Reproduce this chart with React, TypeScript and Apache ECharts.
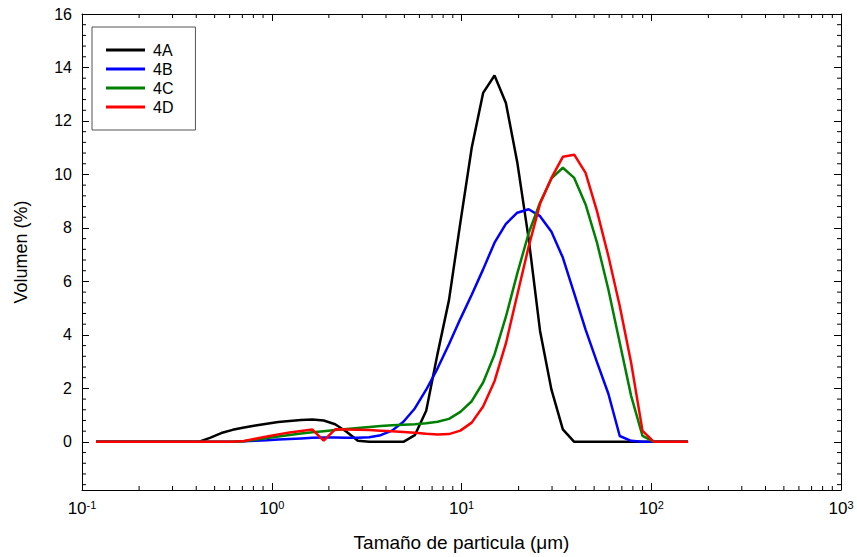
import React, { useEffect, useRef } from "react";
import * as echarts from "echarts";

// Particle sizes (µm)
const sizes = [
  0.1186, 0.1361, 0.1563, 0.1795, 0.2061, 0.2366, 0.2716, 0.3119, 0.3581, 0.4111,
  0.4721, 0.542, 0.6223, 0.7145, 0.8204, 0.9419, 1.081, 1.242, 1.426, 1.637,
  1.879, 2.158, 2.477, 2.844, 3.266, 3.75, 4.305, 4.943, 5.675, 6.516,
  7.482, 8.59, 9.863, 11.32, 13.0, 14.93, 17.14, 19.68, 22.59, 25.94,
  29.79, 34.2, 39.26, 45.08, 51.76, 59.43, 68.23, 78.34, 89.95, 103.3,
  118.6, 136.1, 156.3,
];

const names = ["4A", "4B", "4C", "4D"];
const colors = ["#000000", "#0000ff", "#008000", "#ff0000"];

const s4A = [
  0, 0, 0, 0, 0, 0, 0, 0, 0, 0,
  0.15, 0.33, 0.45, 0.54, 0.61, 0.68, 0.74, 0.78, 0.82, 0.84,
  0.8, 0.66, 0.38, 0.04, 0, 0, 0, 0, 0.25, 1.16,
  3.3, 5.3, 8.2, 11.0, 13.05, 13.7, 12.67, 10.45, 7.6, 4.15,
  1.95, 0.47, 0, 0, 0, 0, 0, 0, 0, 0,
  0, 0, 0,
];
const s4B = [
  0, 0, 0, 0, 0, 0, 0, 0, 0, 0,
  0, 0, 0, 0.02, 0.04, 0.06, 0.09, 0.11, 0.13, 0.15,
  0.16, 0.16, 0.15, 0.15, 0.17, 0.25, 0.42, 0.75, 1.25, 1.95,
  2.75, 3.65, 4.6, 5.5, 6.45, 7.45, 8.15, 8.57, 8.7, 8.44,
  7.86, 6.89, 5.55, 4.2, 2.98, 1.8, 0.22, 0.04, 0, 0,
  0, 0, 0,
];
const s4C = [
  0, 0, 0, 0, 0, 0, 0, 0, 0, 0,
  0, 0, 0, 0.02, 0.08, 0.14, 0.2, 0.26, 0.31, 0.36,
  0.4, 0.44, 0.48, 0.52, 0.56, 0.59, 0.62, 0.64, 0.66, 0.7,
  0.75, 0.86, 1.12, 1.52, 2.22, 3.27, 4.68, 6.3, 7.8, 8.95,
  9.85, 10.25, 9.87, 8.88, 7.45, 5.7, 3.71, 1.72, 0.22, 0,
  0, 0, 0,
];
const s4D = [
  0, 0, 0, 0, 0, 0, 0, 0, 0, 0,
  0, 0, 0, 0.03, 0.12, 0.2, 0.28, 0.35, 0.41, 0.46,
  0.05, 0.47, 0.46, 0.45, 0.44, 0.42, 0.4, 0.37, 0.34, 0.3,
  0.28, 0.29, 0.42, 0.72, 1.32, 2.27, 3.68, 5.5, 7.3, 8.9,
  9.87, 10.66, 10.74, 10.06, 8.63, 6.95, 5.08, 2.96, 0.41, 0,
  0, 0, 0,
];
const seriesValues = [s4A, s4B, s4C, s4D];

// Axis ticks
const yMajorTicks = [0, 2, 4, 6, 8, 10, 12, 14, 16];
const yMinorTicks = [
  -1.6, -1.2, -0.8, -0.4, 0.4, 0.8, 1.2, 1.6, 2.4, 2.8, 3.2, 3.6, 4.4, 4.8, 5.2, 5.6,
  6.4, 6.8, 7.2, 7.6, 8.4, 8.8, 9.2, 9.6, 10.4, 10.8, 11.2, 11.6, 12.4, 12.8, 13.2, 13.6,
  14.4, 14.8, 15.2, 15.6,
];
const xMinorTicks = [
  0.2, 0.3, 0.4, 0.5, 0.6, 0.7, 0.8, 0.9,
  2, 3, 4, 5, 6, 7, 8, 9,
  20, 30, 40, 50, 60, 70, 80, 90,
  200, 300, 400, 500, 600, 700, 800, 900,
];

const FONT = "Liberation Sans, Arial, Helvetica, sans-serif";
const MINOR_LEN = 4;
const AXIS_COLOR = "#000";

export default function App() {
  const ref = useRef<HTMLDivElement>(null);

  useEffect(() => {
    if (!ref.current) return;
    const chart = echarts.init(ref.current, undefined, { renderer: "svg" });

    const lineSeries = names.map((name, k) => ({
      name,
      type: "line",
      xAxisIndex: 0,
      yAxisIndex: 0,
      data: sizes.map((x, i) => [x, seriesValues[k][i]]),
      showSymbol: false,
      symbol: "none",
      lineStyle: { width: 2.5, color: colors[k] },
      itemStyle: { color: colors[k] },
      z: 3 + k,
    }));

    const option: any = {
      animation: false,
      backgroundColor: "#ffffff",
      textStyle: { fontFamily: FONT },
      grid: { left: 82, right: 16, top: 14, bottom: 66, containLabel: false },
      legend: {
        data: names,
        orient: "vertical",
        left: 92,
        top: 27,
        icon: "rect",
        itemWidth: 39,
        itemHeight: 3,
        itemGap: 3,
        padding: [15, 22, 15, 14],
        borderColor: "#555",
        borderWidth: 1,
        backgroundColor: "#fff",
        textStyle: { fontSize: 16, fontFamily: FONT, color: "#000", lineHeight: 16, padding: [0, 0, 0, 3] },
      },
      xAxis: [
        {
          type: "log",
          logBase: 10,
          min: 0.1,
          max: 1000,
          position: "bottom",
          name: "Tamaño de particula (μm)",
          nameLocation: "middle",
          nameGap: 43,
          nameTextStyle: { fontSize: 19, fontFamily: FONT, color: "#000" },
          axisLine: { show: true, onZero: false, lineStyle: { color: AXIS_COLOR, width: 1 } },
          axisTick: { show: true, inside: true, length: 7, lineStyle: { color: AXIS_COLOR } },
          splitLine: { show: false },
          axisLabel: {
            margin: 9,
            color: "#000",
            formatter: (v: number) => `{b|10}{s|${Math.round(Math.log10(v))}}`,
            rich: {
              b: { fontSize: 17, fontFamily: FONT, color: "#000", lineHeight: 18 },
              s: { fontSize: 11, fontFamily: FONT, color: "#000", lineHeight: 11, padding: [0, 0, 7, 0] },
            },
          },
        },
        {
          type: "log",
          logBase: 10,
          min: 0.1,
          max: 1000,
          position: "top",
          axisLine: { show: true, onZero: false, lineStyle: { color: AXIS_COLOR, width: 1 } },
          axisTick: { show: true, inside: true, length: 7, lineStyle: { color: AXIS_COLOR } },
          axisLabel: { show: false },
          splitLine: { show: false },
        },
      ],
      yAxis: [
        {
          type: "value",
          min: -1.8,
          max: 16,
          position: "left",
          name: "Volumen (%)",
          nameLocation: "middle",
          nameGap: 52,
          nameRotate: 90,
          nameTextStyle: { fontSize: 18, fontFamily: FONT, color: "#000" },
          axisLine: { show: true, onZero: false, lineStyle: { color: AXIS_COLOR, width: 1 } },
          axisTick: { show: true, inside: true, length: 7, customValues: yMajorTicks, lineStyle: { color: AXIS_COLOR } },
          axisLabel: { margin: 10, fontSize: 16, fontFamily: FONT, color: "#000", customValues: yMajorTicks },
          splitLine: { show: false },
        },
        {
          type: "value",
          min: -1.8,
          max: 16,
          position: "right",
          axisLine: { show: true, onZero: false, lineStyle: { color: AXIS_COLOR, width: 1 } },
          axisTick: { show: true, inside: true, length: 7, customValues: yMajorTicks, lineStyle: { color: AXIS_COLOR } },
          axisLabel: { show: false, customValues: yMajorTicks },
          splitLine: { show: false },
        },
      ],
      series: [
        {
          type: "custom",
          name: "xMinor",
          xAxisIndex: 0,
          yAxisIndex: 0,
          silent: true,
          clip: false,
          data: xMinorTicks.map((v) => [v, 0]),
          encode: { x: 0, y: 1 },
          renderItem: (params: any, api: any) => {
            const p = api.coord([api.value(0), 0]);
            const cs = params.coordSys;
            const style = { stroke: AXIS_COLOR, lineWidth: 1 };
            return {
              type: "group",
              children: [
                { type: "line", shape: { x1: p[0], y1: cs.y + cs.height, x2: p[0], y2: cs.y + cs.height - MINOR_LEN }, style },
                { type: "line", shape: { x1: p[0], y1: cs.y, x2: p[0], y2: cs.y + MINOR_LEN }, style },
              ],
            };
          },
          z: 1,
        },
        {
          type: "custom",
          name: "yMinor",
          xAxisIndex: 0,
          yAxisIndex: 0,
          silent: true,
          clip: false,
          data: yMinorTicks.map((v) => [1, v]),
          encode: { x: 0, y: 1 },
          renderItem: (params: any, api: any) => {
            const p = api.coord([1, api.value(1)]);
            const cs = params.coordSys;
            const style = { stroke: AXIS_COLOR, lineWidth: 1 };
            return {
              type: "group",
              children: [
                { type: "line", shape: { x1: cs.x, y1: p[1], x2: cs.x + MINOR_LEN, y2: p[1] }, style },
                { type: "line", shape: { x1: cs.x + cs.width, y1: p[1], x2: cs.x + cs.width - MINOR_LEN, y2: p[1] }, style },
              ],
            };
          },
          z: 1,
        },
        ...lineSeries,
      ],
    };

    chart.setOption(option);
    return () => chart.dispose();
  }, []);

  return (
    <div
      ref={ref}
      style={{ position: "fixed", left: 0, top: 0, width: 857, height: 557, background: "#fff" }}
    />
  );
}
